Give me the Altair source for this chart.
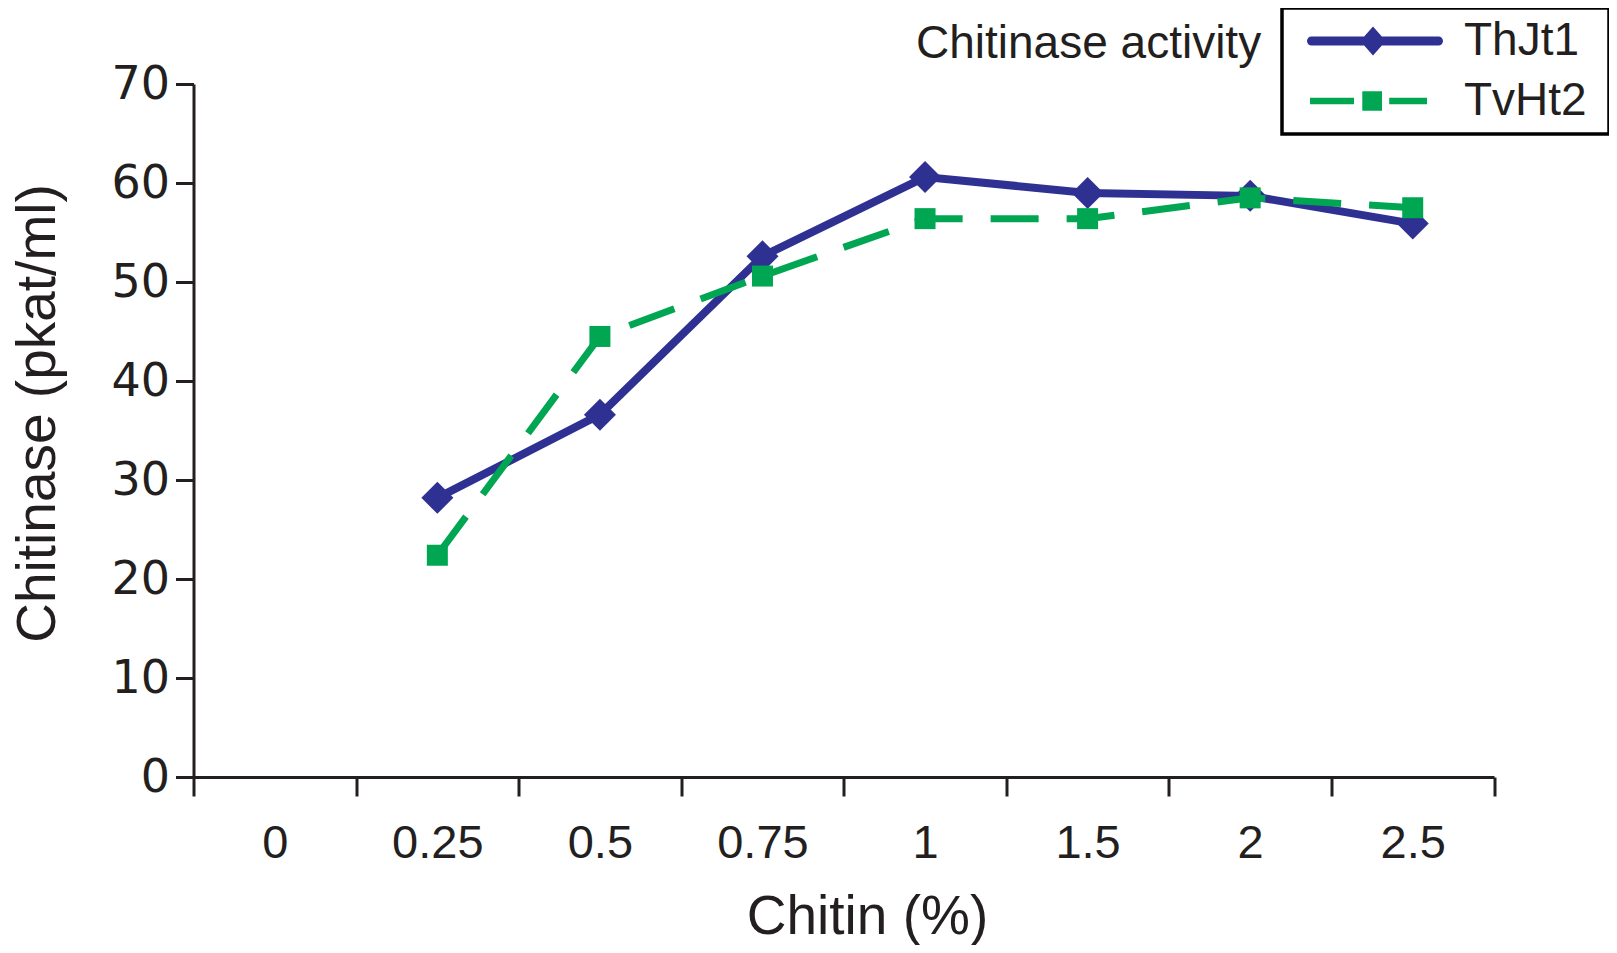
import altair as alt
import pandas as pd

# ---- data ----
chitin_levels = ["0", "0.25", "0.5", "0.75", "1", "1.5", "2", "2.5"]
measured_levels = ["0.25", "0.5", "0.75", "1", "1.5", "2", "2.5"]
thjt1_values = [28.2, 36.6, 52.6, 60.6, 59.0, 58.7, 55.9]
tvht2_values = [22.4, 44.5, 50.6, 56.4, 56.4, 58.5, 57.5]
series_names = ["ThJt1", "TvHt2"]
series_colors = ["#2e3192", "#00a651"]
y_tick_values = [0, 10, 20, 30, 40, 50, 60, 70]

df = pd.DataFrame({
    "chitin": measured_levels + measured_levels,
    "value": thjt1_values + tvht2_values,
    "series": [series_names[0]] * len(thjt1_values) + [series_names[1]] * len(tvht2_values),
})

INK = "#231f20"
FONT = "Liberation Sans"

# legend symbols: line + marker glyphs (unit = half of sqrt(symbolSize) = 20px)
blue_symbol = (
    "M -3.175 -0.225 L 3.175 -0.225 A 0.225 0.225 0 0 1 3.175 0.225 "
    "L -3.175 0.225 A 0.225 0.225 0 0 1 -3.175 -0.225 Z "
    "M -0.1 -0.72 L 0.54 0 L -0.1 0.72 L -0.74 0 Z"
)
green_symbol = (
    "M -3.25 -0.165 L -1.05 -0.165 L -1.05 0.165 L -3.25 0.165 Z "
    "M -0.635 -0.49 L 0.35 -0.49 L 0.35 0.49 L -0.635 0.49 Z "
    "M 0.71 -0.165 L 2.6 -0.165 L 2.6 0.165 L 0.71 0.165 Z"
)

x_enc = alt.X(
    "chitin:O",
    sort=chitin_levels,
    scale=alt.Scale(type="band", domain=chitin_levels, paddingInner=0, paddingOuter=0),
    axis=alt.Axis(
        title="Chitin (%)",
        tickBand="extent",
        labelAngle=0,
        grid=False,
        domainColor=INK, domainWidth=3,
        tickColor=INK, tickWidth=3, tickSize=19,
        labelColor=INK, labelFontSize=47, labelPadding=24, labelFont=FONT,
        titleColor=INK, titleFontSize=55, titleFontWeight="normal", titleFont=FONT,
        titleX=673.5, titleY=156, titleBaseline="alphabetic", titleAlign="center",
    ),
)

y_enc = alt.Y(
    "value:Q",
    scale=alt.Scale(domain=[0, 70], nice=False, zero=True),
    axis=alt.Axis(
        values=y_tick_values,
        title="Chitinase (pkat/ml)",
        grid=False,
        domainColor=INK, domainWidth=3,
        tickColor=INK, tickWidth=3, tickSize=18,
        labelColor=INK, labelFontSize=46, labelPadding=6, labelFont="DejaVu Sans",
        titleColor=INK, titleFontSize=55, titleFontWeight="normal", titleFont=FONT,
        titleAngle=270, titleX=-156, titleY=329, titleBaseline="middle", titleAlign="center",
    ),
)

base = alt.Chart(df)

blue_line = base.transform_filter(alt.datum.series == series_names[0]).mark_line(
    color=series_colors[0], strokeWidth=8, strokeJoin="miter"
).encode(x=x_enc, y=y_enc)

blue_points = base.transform_filter(alt.datum.series == series_names[0]).mark_point(
    shape="diamond", filled=True, size=1024, color=series_colors[0], opacity=1, strokeWidth=0
).encode(x=x_enc, y=y_enc)

green_line = base.transform_filter(alt.datum.series == series_names[1]).mark_line(
    color=series_colors[1], strokeWidth=7, strokeDash=[48, 28]
).encode(x=x_enc, y=y_enc)

green_points = base.transform_filter(alt.datum.series == series_names[1]).mark_point(
    shape="square", filled=True, size=441, color=series_colors[1], opacity=1, strokeWidth=0
).encode(x=x_enc, y=y_enc)

legend_spec = alt.Legend(
    title=".",
    titleOrient="right",
    titleColor="transparent",
    titleFontSize=10,
    titlePadding=9,
    orient="none",
    legendX=1088.5,
    legendY=-76,
    direction="vertical",
    padding=10,
    rowPadding=14,
    strokeColor="#000000",
    symbolSize=1600,
    symbolOffset=60,
    symbolStrokeWidth=0,
    symbolOpacity=1,
    labelOffset=66,
    labelFontSize=46,
    labelFont=FONT,
    labelColor=INK,
    labelLimit=300,
)

legend_layer = base.transform_filter("false").mark_point(
    filled=True, size=1600, opacity=1, strokeWidth=0
).encode(
    x=x_enc,
    y=y_enc,
    color=alt.Color("series:N", scale=alt.Scale(domain=series_names, range=series_colors), legend=legend_spec),
    shape=alt.Shape("series:N", scale=alt.Scale(domain=series_names, range=[blue_symbol, green_symbol]), legend=legend_spec),
)

chart = alt.layer(
    blue_line, blue_points, green_line, green_points, legend_layer
).properties(
    width=1300.5,
    height=693,
    padding={"left": 185.5, "top": 76, "right": 115, "bottom": 168},
    autosize=alt.AutoSizeParams(type="none"),
    title=alt.TitleParams(
        "Chitinase activity",
        anchor="start",
        frame="group",
        dx=722.5,
        dy=98,
        offset=0,
        fontSize=46,
        fontWeight="normal",
        font=FONT,
        color=INK,
        baseline="alphabetic",
    ),
).configure(
    font=FONT, background="white"
).configure_view(
    stroke="transparent", strokeWidth=0
).configure_legend(
    strokeWidth=3.5
)

chart.save("out.html", embed_options={"renderer": "svg", "actions": False})
